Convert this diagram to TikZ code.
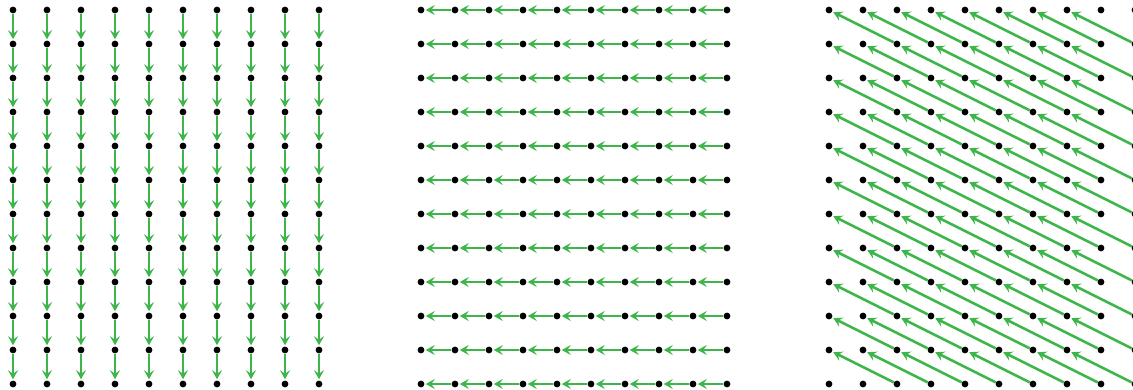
\documentclass[tikz,border=0pt]{standalone}
\usetikzlibrary{arrows.meta}
\definecolor{arrowgreen}{RGB}{61,181,74}
\tikzset{
  dot/.style={circle,fill=black,inner sep=0pt,minimum size=6.8pt},
  flow/.style={draw=arrowgreen,line width=2.5pt,-{Stealth[length=9pt,width=10pt,inset=3.5pt]},shorten >=1.2pt}
}
\begin{document}
\begin{tikzpicture}[x=1pt,y=-1pt]
\clip (0,0) rectangle (1133,389);
\foreach \i in {0,...,9}{
  \foreach \j in {0,...,11}{
    \node[dot] (L-\i-\j) at ({13+34*\i},{10+34*\j}) {};
    \node[dot] (M-\i-\j) at ({421+34*\i},{10+34*\j}) {};
    \node[dot] (R-\i-\j) at ({829+34*\i},{10+34*\j}) {};
  }
}
% left: downward
\foreach \i in {0,...,9}{
  \foreach \j [evaluate=\j as \k using int(\j+1)] in {0,...,10}{
    \draw[flow] (L-\i-\j) -- (L-\i-\k);
  }
}
% middle: leftward
\foreach \i [evaluate=\i as \k using int(\i+1)] in {0,...,8}{
  \foreach \j in {0,...,11}{
    \draw[flow] (M-\k-\j) -- (M-\i-\j);
  }
}
% right: diagonal up-left
\foreach \i [evaluate=\i as \k using int(\i+2)] in {0,...,7}{
  \foreach \j [evaluate=\j as \m using int(\j+1)] in {0,...,10}{
    \draw[flow] (R-\k-\m) -- (R-\i-\j);
  }
}
\end{tikzpicture}
\end{document}
